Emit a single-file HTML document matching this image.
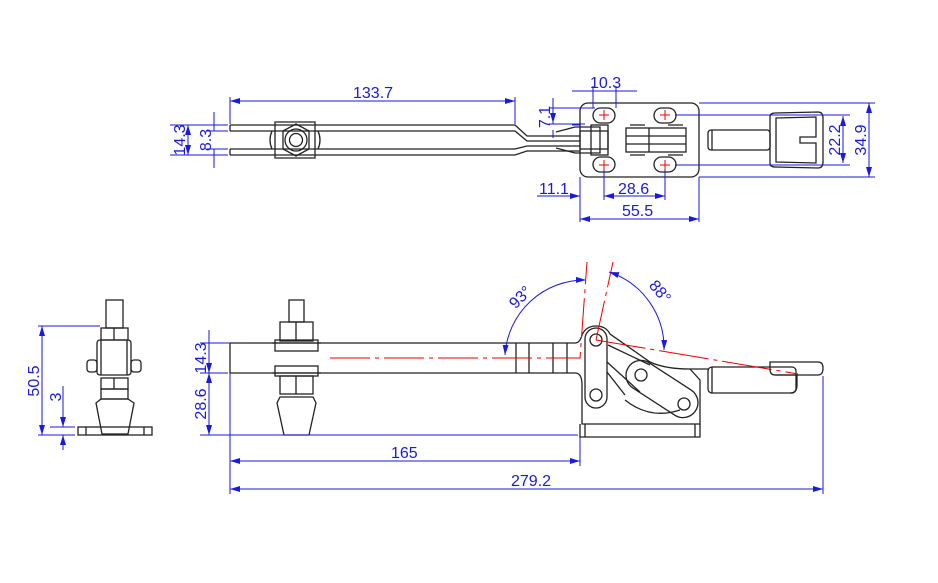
<!DOCTYPE html>
<html><head><style>body{margin:0;background:#fff}svg{display:block}text{font-family:"Liberation Sans",sans-serif;font-size:16px;fill:#1a1adc}</style></head><body>
<svg width="938" height="583" viewBox="0 0 938 583" xmlns="http://www.w3.org/2000/svg">
<defs><marker id="a" viewBox="0 0 10 6" refX="10" refY="3" markerWidth="10" markerHeight="6" orient="auto-start-reverse"><path d="M0,0L10,3L0,6z" fill="#1a1adc"/></marker></defs>
<g fill="none" stroke="#222" stroke-width="1.3">
<!-- TOP VIEW -->
<path d="M230,125H515L527,136H580M230,131H515L527,141H580"/>
<path d="M230,149H515L527,146H580M230,155H515L527,151H580"/>
<path d="M230,125V131M230,149V155"/>
<path d="M275,122H315V158H275Z"/><path d="M272,131Q268,140 272,149M318,131Q322,140 318,149"/>
<path d="M283,131L296,124L309,131V149L296,156L283,149Z"/>
<circle cx="296" cy="140" r="11"/><circle cx="296" cy="140" r="6.5"/>
<rect x="580" y="103" width="119" height="74" rx="8"/>
<rect x="593" y="108" width="22" height="15" rx="7.5"/><rect x="654" y="108" width="22" height="15" rx="7.5"/>
<rect x="593" y="157" width="22" height="15" rx="7.5"/><rect x="654" y="157" width="22" height="15" rx="7.5"/>
<path d="M556,132L575,127H600V153H575L556,148"/>
<rect x="580" y="131" width="28" height="18"/><rect x="591" y="125" width="17" height="30"/>
<rect x="626" y="128" width="60" height="24"/><path d="M649,128V152M626,136H686M626,144H686"/>
<path d="M630,125H645M668,125H683M630,155H645M668,155H683"/>
<rect x="708" y="130" width="62" height="20" rx="3"/><path d="M712,130V150"/>
<path d="M770,117Q770,113 775,113L818,112Q823,112 823,118V162Q823,168 818,168L775,167Q770,167 770,163Z"/>
<path d="M776,118L816,117V137H800V143H816V163L776,162Z"/>
<!-- SIDE VIEW -->
<path d="M230,343H575Q580,343 582,335Q586,326 596,326Q606,326 610,334L650,362Q665,369 690,369H708M230,373H575Q582,373 582,385V424H700V406"/>
<path d="M230,343V373M516,343V373M529,343V373M553,343V373M567,343V373"/>
<path d="M580,424V437H700V424M585,424V437M695,424V437"/>
<path d="M608,345L650,365"/>
<rect x="585" y="328" width="22" height="80" rx="11"/>
<circle cx="596" cy="340" r="6"/><circle cx="596" cy="395" r="6"/>
<path d="M607,362L640,392M607,372L625,395"/>
<path d="M625,400Q650,420 680,410"/>
<path d="M690,369L700,380V406"/>
<rect x="622" y="374" width="80" height="30" rx="15" transform="rotate(33 662 389)"/>
<circle cx="641" cy="375" r="6"/><circle cx="684" cy="404" r="6"/>
<rect x="708" y="367" width="88" height="26" rx="4"/><path d="M712,367V393"/>
<path d="M770,362H818Q823,362 823,368Q823,375 818,375H775Q770,375 770,369Z"/>
<path d="M775,375H797V385Q797,393 790,393"/>
<!-- spindle side -->
<rect x="289" y="300" width="15" height="22"/>
<rect x="280" y="322" width="33" height="19"/><path d="M296,322V341"/>
<rect x="275" y="340" width="43" height="11"/><path d="M272,343H321"/>
<rect x="275" y="366" width="43" height="10"/><path d="M272,373H321"/>
<rect x="280" y="376" width="33" height="18"/><path d="M296,376V394"/>
<path d="M280,397L277,403L284,435H309L316,403L313,397Z"/>
<!-- left view -->
<rect x="106" y="300" width="17" height="28"/>
<rect x="101" y="328" width="27" height="12"/><path d="M114,328V340"/>
<rect x="97" y="340" width="34" height="35" rx="3"/><path d="M101,340V375M127,340V375"/>
<rect x="87" y="360" width="10" height="12" rx="3"/><rect x="131" y="360" width="10" height="12" rx="3"/>
<rect x="101" y="378" width="27" height="11"/><path d="M114,378V389"/>
<rect x="101" y="389" width="27" height="10"/>
<path d="M101,399L96,403L102,434H128L134,403L128,399Z"/>
<rect x="78" y="427" width="74" height="8"/><path d="M86,427V435M144,427V435"/>
</g>
<g stroke="#e00" stroke-width="1" fill="none">
<path d="M330,358H580L587,262" stroke-dasharray="40,5,4,5"/>
<path d="M596,340L613,262" stroke-dasharray="40,5,4,5"/>
<path d="M596,340L798,374" stroke-dasharray="50,5,4,5"/>
<path d="M604,110V120M599,115H609M665,110V120M660,115H670M604,160V170M599,165H609M665,160V170M660,165H670"/>
</g>
<g stroke="#1a1adc" stroke-width="1" fill="none">
<path d="M230,97V124M515,97V124"/><path d="M230,101H515" marker-start="url(#a)" marker-end="url(#a)"/>
<path d="M170,125H228M170,155H228M207,131H228M207,149H228"/>
<path d="M188,125V155" marker-start="url(#a)" marker-end="url(#a)"/>
<path d="M214,112V131M214,149V168"/>
<path d="M553,98V124M553,130V138"/><path d="M553,109V123" marker-end="url(#a)"/>
<path d="M549,108H595M549,124H585M572,125H580"/>
<path d="M572,91H637"/><path d="M593,86V108M616,86V108"/>
<path d="M580,177V222M604,170V200M665,170V200M699,177V222"/>
<path d="M537,196H580" marker-end="url(#a)"/><path d="M604,196H665" marker-start="url(#a)" marker-end="url(#a)"/>
<path d="M580,219H699" marker-start="url(#a)" marker-end="url(#a)"/>
<path d="M699,103H875M699,177H875M675,115H850M675,165H850"/>
<path d="M869,103V177" marker-start="url(#a)" marker-end="url(#a)"/>
<path d="M843,116V163" marker-start="url(#a)" marker-end="url(#a)"/>
<path d="M200,343H230M200,373H228M200,435H578"/>
<path d="M209,330V373" marker-end="url(#a)"/><path d="M209,373V435" marker-start="url(#a)" marker-end="url(#a)"/>
<path d="M230,373V494M580,437V466M823,376V494"/>
<path d="M230,461H580" marker-start="url(#a)" marker-end="url(#a)"/>
<path d="M230,489H823" marker-start="url(#a)" marker-end="url(#a)"/>
<path d="M505,355A80,80 0 0 1 586,280" marker-start="url(#a)" marker-end="url(#a)"/>
<path d="M609,272A80,80 0 0 1 664,350" marker-start="url(#a)" marker-end="url(#a)"/>
<path d="M38,326H100M38,435H75M50,427H75"/>
<path d="M42,326V435" marker-start="url(#a)" marker-end="url(#a)"/>
<path d="M63,386V427" marker-end="url(#a)"/><path d="M63,450V435" marker-end="url(#a)"/>
</g>
<g>
<text x="353" y="98">133.7</text>
<text x="590" y="88">10.3</text>
<text x="539" y="194">11.1</text>
<text x="618" y="194">28.6</text>
<text x="622" y="216">55.5</text>
<text x="391" y="458">165</text>
<text x="511" y="486">279.2</text>
<text transform="translate(185,140) rotate(-90)" text-anchor="middle">14.3</text>
<text transform="translate(211,140) rotate(-90)" text-anchor="middle">8.3</text>
<text transform="translate(550,117) rotate(-90)" text-anchor="middle">7.1</text>
<text transform="translate(840,140) rotate(-90)" text-anchor="middle">22.2</text>
<text transform="translate(866,140) rotate(-90)" text-anchor="middle">34.9</text>
<text transform="translate(206,358) rotate(-90)" text-anchor="middle">14.3</text>
<text transform="translate(206,404) rotate(-90)" text-anchor="middle">28.6</text>
<text transform="translate(39,381) rotate(-90)" text-anchor="middle">50.5</text>
<text transform="translate(61,397) rotate(-90)" text-anchor="middle">3</text>
<text transform="translate(524,301) rotate(-45)" text-anchor="middle">93°</text>
<text transform="translate(656,295) rotate(50)" text-anchor="middle">88°</text>
</g>
</svg>
</body></html>
